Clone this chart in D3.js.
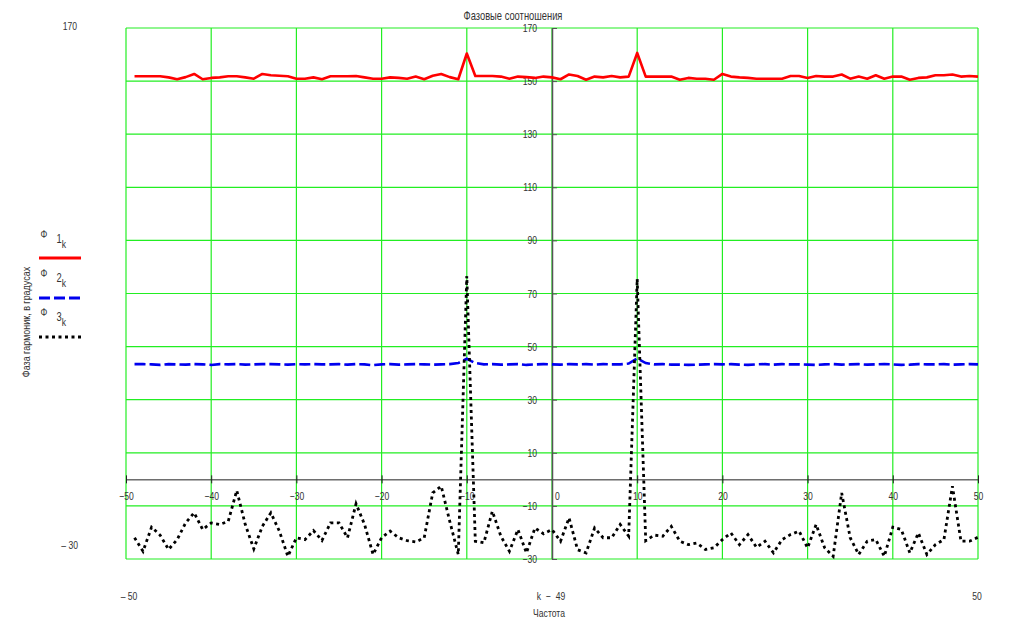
<!DOCTYPE html>
<html><head><meta charset="utf-8">
<script src="https://cdn.jsdelivr.net/npm/d3@7"></script>
<style>
body{margin:0;background:#fff}
svg text{font-family:"Liberation Sans",Arial,sans-serif;fill:#333}
</style>
</head><body>
<svg id="chart" width="1011" height="622"></svg>
<script>
// x = k - 49
const kShift = d3.range(-49, 51);
const phi1 = [
 151.8,151.8,151.8,151.8,151.4,150.7,151.5,152.7,150.7,151.2,
 151.4,151.8,151.8,151.4,150.9,152.7,152.2,152.0,151.8,150.9,
 150.9,151.4,150.7,151.8,151.8,151.8,151.9,151.4,150.9,150.9,
 151.4,151.2,150.9,151.7,150.7,152.0,152.7,151.5,150.7,160.4,
 151.9,151.9,151.9,151.7,150.9,151.7,151.5,151.2,151.7,151.4,
 150.7,152.5,151.9,150.5,151.7,151.4,151.9,151.4,151.7,160.6,
 151.7,151.7,151.7,151.7,150.5,151.2,150.9,150.9,150.5,152.7,
 151.7,151.4,151.2,150.9,150.9,150.9,150.9,151.9,151.9,151.2,
 151.9,151.7,151.7,152.5,150.9,151.7,150.9,152.2,150.9,151.7,
 151.7,150.5,151.2,151.4,152.2,152.2,152.5,151.7,151.9,151.7
];
const phi2 = [
 43.4,43.4,43.3,43.1,43.4,43.3,43.2,43.4,43.3,43.1,
 43.4,43.3,43.4,43.2,43.3,43.4,43.4,43.3,43.2,43.4,
 43.3,43.4,43.3,43.3,43.4,43.2,43.4,43.3,43.0,43.3,
 43.4,43.2,43.3,43.4,43.3,43.2,43.3,43.4,43.8,45.4,
 43.8,43.3,43.4,43.2,43.3,43.4,43.1,43.3,43.4,43.3,
 43.2,43.4,43.3,43.4,43.2,43.4,43.3,43.3,43.6,45.6,
 43.8,43.3,43.4,43.2,43.2,43.1,43.2,43.3,43.4,43.3,
 43.4,43.2,43.1,43.3,43.4,43.2,43.4,43.3,43.3,43.2,
 43.1,43.3,43.4,43.2,43.3,43.4,43.2,43.3,43.4,43.3,
 43.1,43.2,43.4,43.3,43.3,43.4,43.2,43.3,43.4,43.3
];
const phi3 = [
 -22.0,-27.1,-18.0,-21.0,-26.4,-22.7,-16.4,-12.6,-18.9,-16.4,
 -17.0,-15.8,-4.2,-17.0,-26.2,-17.7,-12.6,-19.5,-29.0,-22.0,
 -22.7,-19.3,-23.0,-16.4,-16.4,-22.0,-9.2,-17.0,-28.3,-22.0,
 -19.5,-22.0,-23.1,-23.6,-22.0,-5.1,-2.6,-15.8,-28.3,76.6,
 -23.3,-23.9,-12.0,-21.4,-27.1,-18.9,-27.7,-18.3,-20.5,-18.9,
 -23.3,-14.5,-26.5,-27.7,-18.3,-22.0,-22.0,-17.0,-21.4,75.5,
 -23.1,-21.0,-21.4,-17.7,-23.3,-24.6,-24.0,-26.4,-25.8,-22.7,
 -20.2,-24.6,-20.8,-25.6,-23.3,-27.7,-22.7,-20.8,-19.5,-25.8,
 -17.0,-25.8,-29.0,-5.1,-22.0,-28.3,-23.3,-22.7,-29.0,-18.0,
 -18.9,-27.7,-20.2,-28.3,-24.6,-22.7,-2.6,-23.3,-23.3,-21.8
];
const xTicks = [-50,-40,-30,-20,-10,0,10,20,30,40,50];
const yTicks = [-30,-10,10,30,50,70,90,110,130,150,170];

const SX = 0.78; // narrow text look
const svg = d3.select("#chart");
const x = d3.scaleLinear().domain([-50, 50]).range([126, 978]);
const y = d3.scaleLinear().domain([-30, 170]).range([559, 28]);
const grid = "#22ee22";

// grid
svg.append("g").selectAll("line").data(xTicks).join("line")
  .attr("x1", d => x(d)).attr("x2", d => x(d))
  .attr("y1", y(170)).attr("y2", y(-30))
  .attr("stroke", grid).attr("stroke-width", 1.2);
svg.append("g").selectAll("line").data(yTicks).join("line")
  .attr("x1", x(-50)).attr("x2", x(50))
  .attr("y1", d => y(d)).attr("y2", d => y(d))
  .attr("stroke", grid).attr("stroke-width", 1.2);

// x axis
const fmt = d => (d < 0 ? "\u2212" + Math.abs(d) : String(d));
const gx = svg.append("g").attr("transform", `translate(0,${y(0)})`)
  .call(d3.axisBottom(x).tickValues(xTicks).tickSize(4).tickSizeOuter(0).tickPadding(9).tickFormat(fmt));
gx.select(".domain").attr("stroke", "#222");
gx.selectAll(".tick line").attr("y1", -4).attr("stroke", "#222");
gx.selectAll(".tick text").attr("font-size", 11).attr("font-family", null)
  .attr("transform", `scale(${SX},1)`)
  .attr("dx", d => d === 0 ? 5 / SX : 0);

// y axis
const gy = svg.append("g").attr("transform", `translate(${x(0)},0)`)
  .call(d3.axisLeft(y).tickValues(yTicks).tickSize(5).tickSizeOuter(0).tickPadding(10).tickFormat(fmt));
gy.select(".domain").attr("stroke", "#555").attr("stroke-width", 1.5);
gy.selectAll(".tick line").attr("x2", 5).attr("stroke", "#555");
gy.selectAll(".tick text").attr("font-size", 11).attr("font-family", null)
  .attr("transform", `scale(${SX},1)`).attr("x", -15 / SX);

// series
const pts = vals => kShift.map((k, i) => [k, vals[i]]);
const line = d3.line().x(d => x(d[0])).y(d => y(d[1]));
svg.append("path").datum(pts(phi1)).attr("d", line)
  .attr("fill", "none").attr("stroke", "#ff0000").attr("stroke-width", 2.6).attr("stroke-linejoin", "round");
svg.append("path").datum(pts(phi2)).attr("d", line)
  .attr("fill", "none").attr("stroke", "#0000ee").attr("stroke-width", 2.6).attr("stroke-dasharray", "11,4");
svg.append("path").datum(pts(phi3)).attr("d", line)
  .attr("fill", "none").attr("stroke", "#000").attr("stroke-width", 2.8).attr("stroke-dasharray", "3,3.5");

// texts
const txt = (tx, ty, s, size, anchor) => svg.append("text")
  .attr("transform", `translate(${tx},${ty}) scale(${SX},1)`)
  .attr("font-size", size).attr("text-anchor", anchor || "middle").text(s);
txt(513, 20, "Фазовые соотношения", 12);
txt(77, 30, "170", 11, "end");
txt(78, 549, "\u2013\u00a030", 11, "end");
txt(129, 600, "\u2013\u00a050", 11);
txt(551, 600, "k\u00a0\u00a0\u2212\u00a0\u00a049", 11);
txt(977, 600, "50", 11);
txt(549, 617, "Частота", 11);
svg.append("text").attr("transform", `translate(30,322) rotate(-90) scale(${SX},1)`)
  .attr("font-size", 11.5).attr("text-anchor", "middle").text("Фаза гармоник, в градусах");

// legend
const legend = [
  {n: "1", y: 234, ly: 258, c: "#ff0000", dash: null},
  {n: "2", y: 273, ly: 298, c: "#0000ee", dash: "11,4"},
  {n: "3", y: 312, ly: 337, c: "#000", dash: "3,3.5"}
];
legend.forEach(l => {
  txt(44, l.y + 4, "Φ", 11);
  txt(59, l.y + 9, l.n, 12);
  txt(64, l.y + 14, "k", 11);
  svg.append("line").attr("x1", 39).attr("x2", 81).attr("y1", l.ly).attr("y2", l.ly)
    .attr("stroke", l.c).attr("stroke-width", 2.8).attr("stroke-dasharray", l.dash);
});
</script>
</body></html>
